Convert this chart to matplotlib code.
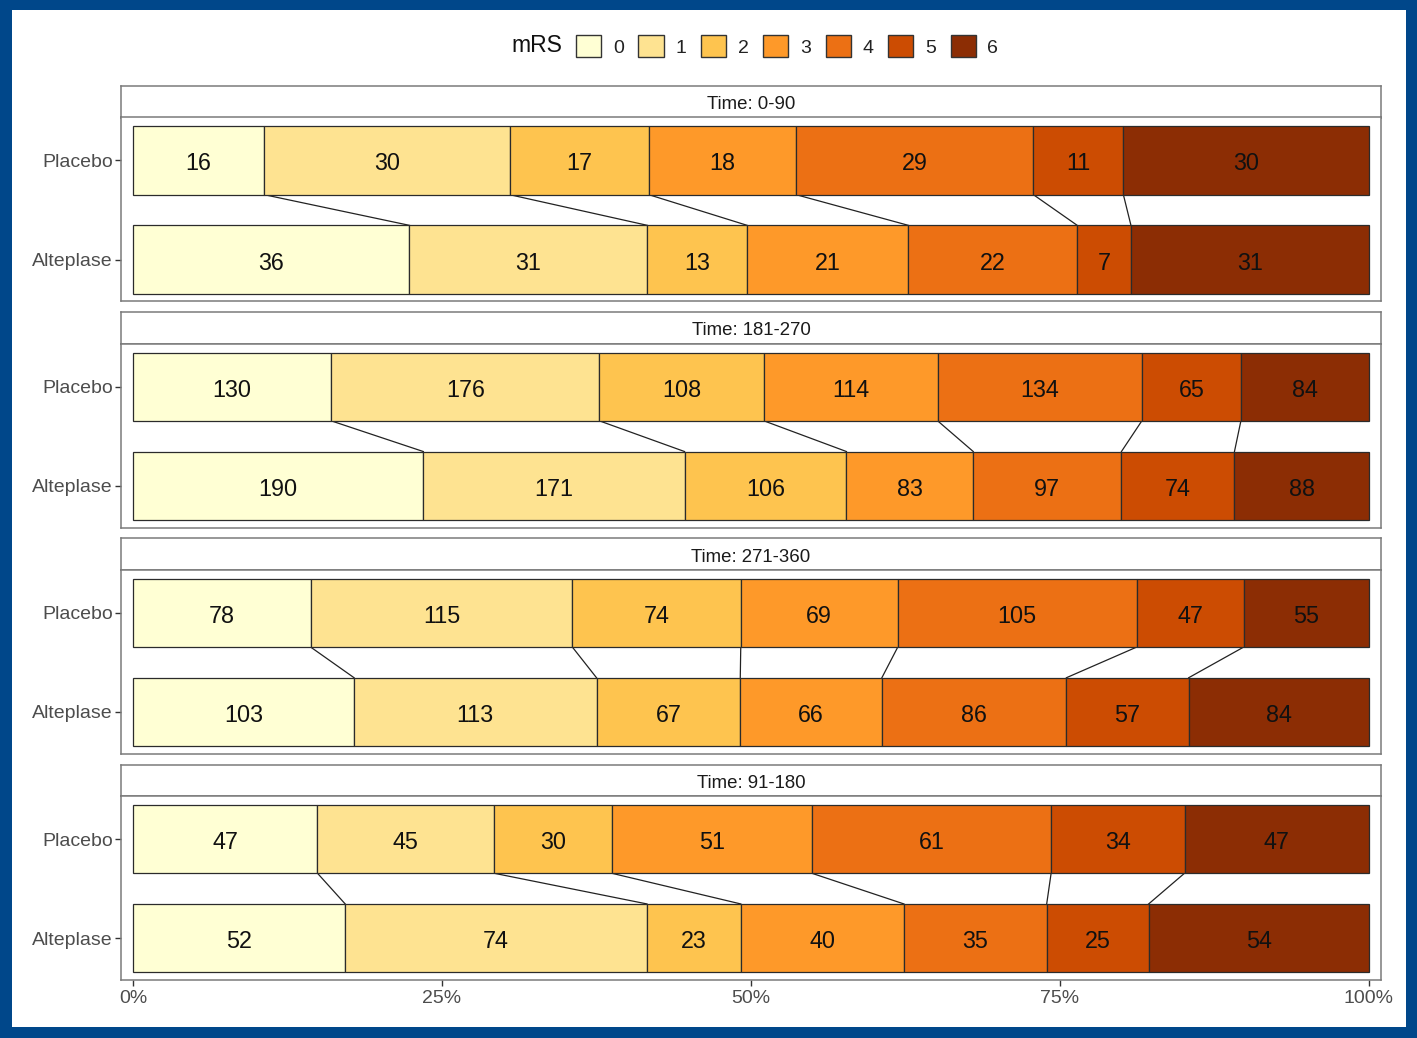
import matplotlib
matplotlib.use("Agg")
import matplotlib.pyplot as plt
from matplotlib.patches import Rectangle, Patch
import numpy as np

plt.rcParams['font.family'] = ['Liberation Sans', 'DejaVu Sans']

mrs_levels = ['0', '1', '2', '3', '4', '5', '6']
colors = ['#FFFFD4', '#FEE391', '#FEC44F', '#FE9929', '#EC7014', '#CC4C02', '#8C2D04']
groups = ['Placebo', 'Alteplase']
time_labels = ['Time: 0-90', 'Time: 181-270', 'Time: 271-360', 'Time: 91-180']

placebo_0_90 = [16, 30, 17, 18, 29, 11, 30]
alteplase_0_90 = [36, 31, 13, 21, 22, 7, 31]
placebo_181_270 = [130, 176, 108, 114, 134, 65, 84]
alteplase_181_270 = [190, 171, 106, 83, 97, 74, 88]
placebo_271_360 = [78, 115, 74, 69, 105, 47, 55]
alteplase_271_360 = [103, 113, 67, 66, 86, 57, 84]
placebo_91_180 = [47, 45, 30, 51, 61, 34, 47]
alteplase_91_180 = [52, 74, 23, 40, 35, 25, 54]

panels = [
    (placebo_0_90, alteplase_0_90),
    (placebo_181_270, alteplase_181_270),
    (placebo_271_360, alteplase_271_360),
    (placebo_91_180, alteplase_91_180),
]

W, H = 1417, 1038
fig = plt.figure(figsize=(W / 100, H / 100), dpi=100)
fig.patch.set_facecolor('#00478A')
fig.patches.append(Rectangle((12 / W, 11 / H), (1406 - 12) / W, (1028 - 11) / H,
                             transform=fig.transFigure, facecolor='white',
                             edgecolor='none', zorder=-10))

def px_axes(left, top, right, bottom):
    return fig.add_axes([left / W, 1 - bottom / H, (right - left) / W, (bottom - top) / H])

border_col = '#7A7A7A'
left_px, right_px = 121, 1381
bar_h = 0.69
y_pos = {'Placebo': 1.0, 'Alteplase': 0.0}

for i, (pl, al) in enumerate(panels):
    top = 86 + i * 226.2
    strip_bottom = top + 31.5
    panel_bottom = strip_bottom + 184

    sax = px_axes(left_px, top, right_px, strip_bottom)
    sax.set_xticks([]); sax.set_yticks([])
    for s in sax.spines.values():
        s.set_color(border_col); s.set_linewidth(1.1)
    sax.text(0.5, 0.47, time_labels[i], ha='center', va='center_baseline', fontsize=13.4,
             color='#1A1A1A', transform=sax.transAxes)

    ax = px_axes(left_px, strip_bottom, right_px, panel_bottom)
    ax.set_xlim(-0.0098, 1.0098)
    ax.set_ylim(-0.424, 1.434)
    for s in ax.spines.values():
        s.set_color(border_col); s.set_linewidth(1.1)

    cums = {}
    for g, vals in zip(groups, (pl, al)):
        vals = np.array(vals, dtype=float)
        props = vals / vals.sum()
        lefts = np.concatenate([[0], np.cumsum(props)[:-1]])
        cums[g] = np.cumsum(props)
        y = y_pos[g]
        ax.barh(y, props, left=lefts, height=bar_h, color=colors,
                edgecolor='#2B2B2B', linewidth=0.9, zorder=2)
        for v, l, p in zip(vals, lefts, props):
            ax.text(l + p / 2, y - 0.01, f"{int(v)}", ha='center', va='center_baseline',
                    fontsize=16.8, color='#111111', zorder=3)
    # connecting lines
    for k in range(len(mrs_levels) - 1):
        ax.plot([cums['Placebo'][k], cums['Alteplase'][k]],
                [y_pos['Placebo'] - bar_h / 2, y_pos['Alteplase'] + bar_h / 2],
                color='#222222', linewidth=0.9, zorder=1)

    ax.set_yticks([y_pos['Placebo'], y_pos['Alteplase']])
    ax.set_yticklabels(groups, fontsize=14, color='#4D4D4D')
    ax.tick_params(axis='y', length=4, color='#333333', width=1, pad=2)
    ax.set_xticks([0, 0.25, 0.5, 0.75, 1.0])
    if i == len(panels) - 1:
        ax.set_xticklabels(['0%', '25%', '50%', '75%', '100%'], fontsize=14, color='#4D4D4D')
        ax.tick_params(axis='x', length=4, color='#333333', width=1, pad=3)
    else:
        ax.tick_params(axis='x', length=0, labelbottom=False)

# legend
fig.text(562 / W, 1 - 46 / H, 'mRS', ha='right', va='center', fontsize=16.5, color='#111111')
handles = [Patch(facecolor=c, edgecolor='#333333', linewidth=1.0) for c in colors]
leg = fig.legend(handles, mrs_levels, ncol=7, loc='center left',
                 bbox_to_anchor=(576 / W, 1 - 46 / H), frameon=False,
                 fontsize=14, handlelength=1.3, handleheight=1.3,
                 handletextpad=0.6, columnspacing=0.75, borderaxespad=0, borderpad=0)
for t in leg.get_texts():
    t.set_color('#222222')

fig.savefig('out.png', dpi=100, facecolor=fig.get_facecolor())
